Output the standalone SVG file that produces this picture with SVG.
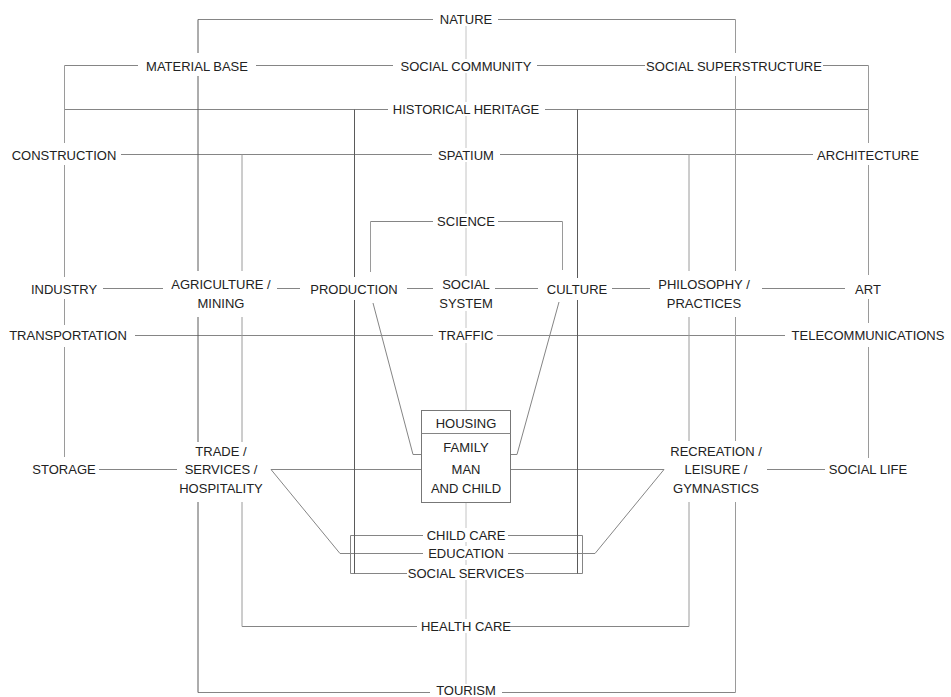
<svg xmlns="http://www.w3.org/2000/svg" width="951" height="697" viewBox="0 0 951 697">
<style>
text{font-family:"Liberation Sans",Arial,sans-serif;font-size:13px;fill:#222;text-anchor:middle;dominant-baseline:central}
.l{stroke:#858585;stroke-width:1;fill:none}
.d{stroke:#5a5a5a;stroke-width:1;fill:none}
.m{stroke:#9a9a9a;stroke-width:1;fill:none}
.c{stroke:#c4c4c4;stroke-width:1;fill:none}
.box{fill:#fff;stroke:#777;stroke-width:1}
</style>
<rect width="951" height="697" fill="#fff"/>
<g id="connectors">
<!-- horizontals -->
<path class="l" d="M198 19.5H433M498 19.5H735.5"/>
<path class="l" d="M64.5 65.5H138M256 65.5H393M537 65.5H645M823 65.5H868.5"/>
<path class="l" d="M64.5 109.5H388M545 109.5H868.5"/>
<path class="l" d="M121 154.5H432M500 154.5H813"/>
<path class="l" d="M370.5 221.5H433M498 221.5H562.5"/>
<path class="l" d="M103 288.5H163M277 288.5H300M407 288.5H433M495 288.5H538M612 288.5H650M762 288.5H845"/>
<path class="l" d="M135 335.5H433M497 335.5H785"/>
<path class="l" d="M99 469.5H177M767 469.5H825"/>
<path class="l" d="M422 469.5H271L340 553.5H423M508 553.5H595L664 469.5H510"/>
<path class="l" d="M373 303L413 454.5H422M559 302L517 454.5H510"/>
<path class="l" d="M423 535.5H350.5V573.5H407M508 535.5H582.5V573.5H525"/>
<path class="l" d="M242 626.5H417M510 626.5H689"/>
<path class="l" d="M198 692.5H430M502 692.5H735.5"/>
<!-- verticals -->
<path class="m" d="M64.5 65.5V143M64.5 165V277M64.5 299V325M64.5 347V457"/>
<path class="m" d="M868.5 65.5V143M868.5 165V275M868.5 299V323M868.5 347V458"/>
<path class="d" d="M198 19.5V53M198 76V271M198 317V442M198 502V692.5"/>
<path class="m" d="M242 154.5V271M242 317V442M242 502V626.5"/>
<path class="d" d="M354.5 109.5V277M354.5 300V573.5"/>
<path class="d" d="M577.5 109.5V278M577.5 300V573.5"/>
<path class="m" d="M689 154.5V271M689 317V441M689 502V626.5"/>
<path class="m" d="M735.5 19.5V53M735.5 76V271M735.5 317V441M735.5 502V692.5"/>
<path class="m" d="M370.5 221.5V272M562.5 221.5V270"/>
<path class="c" d="M466 26V59M466 73V102M466 116V148M466 162V214M466 228V276M466 311V328M466 343V410M466 502V528M466 542V546M466 560V565M466 580V619M466 633V684"/>
</g>
<g id="nature"><text x="466" y="19">NATURE</text></g>
<g id="material-base"><text x="197" y="66">MATERIAL BASE</text></g>
<g id="social-community"><text x="466" y="66">SOCIAL COMMUNITY</text></g>
<g id="social-superstructure"><text x="734" y="66">SOCIAL SUPERSTRUCTURE</text></g>
<g id="historical-heritage"><text x="466" y="109">HISTORICAL HERITAGE</text></g>
<g id="construction"><text x="64" y="155">CONSTRUCTION</text></g>
<g id="spatium"><text x="466" y="155">SPATIUM</text></g>
<g id="architecture"><text x="868" y="155">ARCHITECTURE</text></g>
<g id="science"><text x="466" y="221">SCIENCE</text></g>
<g id="industry"><text x="64" y="289">INDUSTRY</text></g>
<g id="agriculture"><text x="221" y="284">AGRICULTURE /</text><text x="221" y="303">MINING</text></g>
<g id="production"><text x="354" y="289">PRODUCTION</text></g>
<g id="social-system"><text x="466" y="284">SOCIAL</text><text x="466" y="303">SYSTEM</text></g>
<g id="culture"><text x="577" y="289">CULTURE</text></g>
<g id="philosophy"><text x="704" y="284">PHILOSOPHY /</text><text x="704" y="303">PRACTICES</text></g>
<g id="art"><text x="868" y="289">ART</text></g>
<g id="transportation"><text x="68" y="335">TRANSPORTATION</text></g>
<g id="traffic"><text x="466" y="335">TRAFFIC</text></g>
<g id="telecommunications"><text x="868" y="335">TELECOMMUNICATIONS</text></g>
<g id="housing">
<rect class="box" x="421.5" y="410.5" width="89" height="92"/>
<path class="l" d="M421.5 433.5H510.5"/>
<text x="466" y="423">HOUSING</text>
<text x="466" y="447">FAMILY</text>
<text x="466" y="469">MAN</text>
<text x="466" y="488">AND CHILD</text>
</g>
<g id="storage"><text x="64" y="469">STORAGE</text></g>
<g id="trade"><text x="221" y="451">TRADE /</text><text x="221" y="469">SERVICES /</text><text x="221" y="488">HOSPITALITY</text></g>
<g id="recreation"><text x="716" y="451">RECREATION /</text><text x="716" y="469">LEISURE /</text><text x="716" y="488">GYMNASTICS</text></g>
<g id="social-life"><text x="868" y="469">SOCIAL LIFE</text></g>
<g id="child-care"><text x="466" y="535">CHILD CARE</text></g>
<g id="education"><text x="466" y="553">EDUCATION</text></g>
<g id="social-services"><text x="466" y="573">SOCIAL SERVICES</text></g>
<g id="health-care"><text x="466" y="626">HEALTH CARE</text></g>
<g id="tourism"><text x="466" y="690">TOURISM</text></g>
</svg>
